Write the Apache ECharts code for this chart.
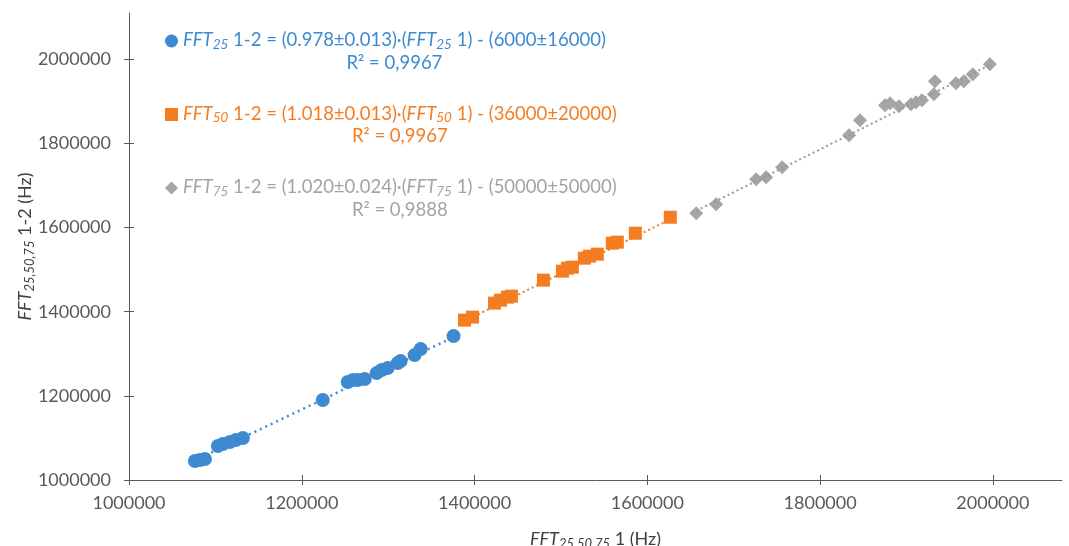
<!DOCTYPE html>
<html>
<head>
<meta charset="utf-8">
<script src="https://cdn.jsdelivr.net/npm/echarts@6/dist/echarts.min.js"></script>
<style>
	html, body { margin: 0; padding: 0; background: #fff; }
	#chart { width: 1069px; height: 546px; }
</style>
</head>
<body>
<div id="chart"></div>
<script>
var fft25X = [1076300, 1082100, 1087900, 1102900, 1108700, 1116800, 1123700, 1131800, 1224300, 1253200,
	1259000, 1264700, 1272800, 1286700, 1292500, 1299400, 1311000, 1314400, 1330600, 1337600, 1375700]
var fft25Y = [1045100, 1047500, 1049900, 1080800, 1085500, 1090300, 1095000, 1099800, 1190000, 1232800,
	1237500, 1237500, 1240000, 1254100, 1261300, 1266000, 1277900, 1282600, 1296900, 1311100, 1342000]

var fft50X = [1388400, 1397700, 1423100, 1430000, 1438100, 1442700, 1479700, 1501700, 1507500, 1513200,
	1527100, 1532900, 1542100, 1559500, 1565300, 1586100, 1626600]
var fft50Y = [1380000, 1387100, 1420400, 1427500, 1434600, 1437000, 1475000, 1496400, 1503500, 1505900,
	1527300, 1532000, 1536800, 1562900, 1565300, 1586600, 1624600]

var fft75X = [1656600, 1679700, 1726000, 1737500, 1756000, 1833500, 1846200, 1875100, 1880900, 1891300,
	1905200, 1910900, 1917900, 1931700, 1932900, 1957200, 1966400, 1976800, 1996500]
var fft75Y = [1634100, 1655500, 1714900, 1719600, 1743400, 1819400, 1855000, 1890600, 1895400, 1888300,
	1893000, 1897800, 1902500, 1916800, 1947600, 1942900, 1947600, 1964300, 1988000]

// fit results as printed in the legend: slope, intercept, R²
var fits = {
	FFT25: {sub: '25', slope: '0.978', slopeErr: '0.013', icpt: '6000', icptErr: '16000', r2: '0,9967'},
	FFT50: {sub: '50', slope: '1.018', slopeErr: '0.013', icpt: '36000', icptErr: '20000', r2: '0,9967'},
	FFT75: {sub: '75', slope: '1.020', slopeErr: '0.024', icpt: '50000', icptErr: '50000', r2: '0,9888'}
}

var tickValues = [1000000, 1200000, 1400000, 1600000, 1800000, 2000000]

var BLUE = '#3d8ad1',
	ORANGE = '#f47d22',
	GRAY = '#a5a5a5',
	AXIS = '#595959',
	FONT = 'Lato'

function pairs (xs, ys) {
	var i, out = []
	for (i = 0; i < xs.length; i++) {
		out.push([xs[i], ys[i]])
	}
	return out
}

function trend (name, xs) {
	var f = fits[name],
		a = parseFloat(f.slope),
		b = parseFloat(f.icpt),
		x0 = Math.min.apply(null, xs),
		x1 = Math.max.apply(null, xs)
	return [[x0, a * x0 - b], [x1, a * x1 - b]]
}

function legend_text (name) {
	var f = fits[name]
	return '{g| }\n' +
		'{i|FFT}{s|' + f.sub + '}{t| 1-2 = (' + f.slope + '±' + f.slopeErr + ')·(}' +
		'{i|FFT}{s|' + f.sub + '}{t| 1) - (' + f.icpt + '±' + f.icptErr + ')}\n' +
		'{c|R² = ' + f.r2 + '}'
}

function value_axis (inside, show, position) {
	return {
		type: 'value',
		position: position,
		min: 1000000,
		splitLine: {show: false},
		axisLine: {show: show, onZero: false, lineStyle: {color: AXIS, width: 1}},
		axisTick: {show: true, inside: inside, length: 5, customValues: tickValues, lineStyle: {color: AXIS}},
		axisLabel: {
			show: show,
			customValues: tickValues,
			formatter: function (v) { return String(v) },
			color: '#595959',
			fontFamily: FONT,
			fontSize: 18
		}
	}
}

var xMain = value_axis(false, true, 'bottom'),
	xCross = value_axis(true, false, 'bottom'),
	yMain = value_axis(false, true, 'left'),
	yCross = value_axis(true, false, 'left')

xMain.max = xCross.max = 2080000
yMain.max = yCross.max = 2110000
xMain.axisLabel.margin = 14
yMain.axisLabel.margin = 18

xMain.name = '{i|FFT}{s|25,50,75}{t| 1 (Hz)}'
xMain.nameLocation = 'middle'
xMain.nameGap = 48
xMain.nameMoveOverlap = false
xMain.nameTextStyle = {
	color: '#404040', fontFamily: FONT, fontSize: 18,
	rich: {
		i: {fontStyle: 'italic', fontSize: 18, lineHeight: 22},
		s: {fontStyle: 'italic', fontSize: 13, lineHeight: 13, verticalAlign: 'bottom'},
		t: {fontSize: 18, lineHeight: 22}
	}
}

yMain.name = '{i|FFT}{s|25,50,75}{t| 1-2 (Hz)}'
yMain.nameLocation = 'middle'
yMain.nameGap = 93
yMain.nameMoveOverlap = false
yMain.nameTextStyle = xMain.nameTextStyle

var chart = echarts.init(document.getElementById('chart'), null, {renderer: 'canvas'})

chart.setOption({
	animation: false,
	backgroundColor: '#fff',
	grid: {left: 129, right: 7, top: 13, bottom: 66, outerBoundsMode: 'none'},
	xAxis: [xMain, xCross],
	yAxis: [yMain, yCross],
	legend: {
		orient: 'vertical',
		left: 160,
		top: 4,
		itemWidth: 13,
		itemHeight: 13,
		itemGap: 10,
		selectedMode: false,
		data: [
			{name: 'FFT25', icon: 'circle', textStyle: {color: BLUE}},
			{name: 'FFT50', icon: 'rect', textStyle: {color: ORANGE}},
			{name: 'FFT75', icon: 'diamond', textStyle: {color: '#a3a3a3'}}
		],
		formatter: legend_text,
		textStyle: {
			fontFamily: FONT,
			fontSize: 18.5,
			rich: {
				g: {fontSize: 18.5, lineHeight: 22},
				i: {fontStyle: 'italic', fontSize: 18.5, lineHeight: 22},
				s: {fontStyle: 'italic', fontSize: 13.5, lineHeight: 13, verticalAlign: 'bottom'},
				t: {fontSize: 18.5, lineHeight: 22},
				c: {fontSize: 18.5, lineHeight: 23, align: 'center'}
			}
		}
	},
	series: [
		{name: 'FFT25 fit', type: 'line', data: trend('FFT25', fft25X), symbol: 'none', z: 3,
			lineStyle: {color: BLUE, width: 2.5, type: [2, 4]}},
		{name: 'FFT50 fit', type: 'line', data: trend('FFT50', fft50X), symbol: 'none', z: 3,
			lineStyle: {color: ORANGE, width: 2, type: [2, 3]}},
		{name: 'FFT75 fit', type: 'line', data: trend('FFT75', fft75X), symbol: 'none', z: 3,
			lineStyle: {color: '#9a9a9a', width: 2, type: [2, 3]}},
		{name: 'FFT25', type: 'scatter', data: pairs(fft25X, fft25Y), symbol: 'circle', symbolSize: 14,
			itemStyle: {color: BLUE, opacity: 1}},
		{name: 'FFT50', type: 'scatter', data: pairs(fft50X, fft50Y), symbol: 'rect', symbolSize: 13,
			itemStyle: {color: ORANGE, opacity: 1}},
		{name: 'FFT75', type: 'scatter', data: pairs(fft75X, fft75Y), symbol: 'diamond', symbolSize: 14,
			itemStyle: {color: GRAY, opacity: 1}}
	]
})
</script>
</body>
</html>
